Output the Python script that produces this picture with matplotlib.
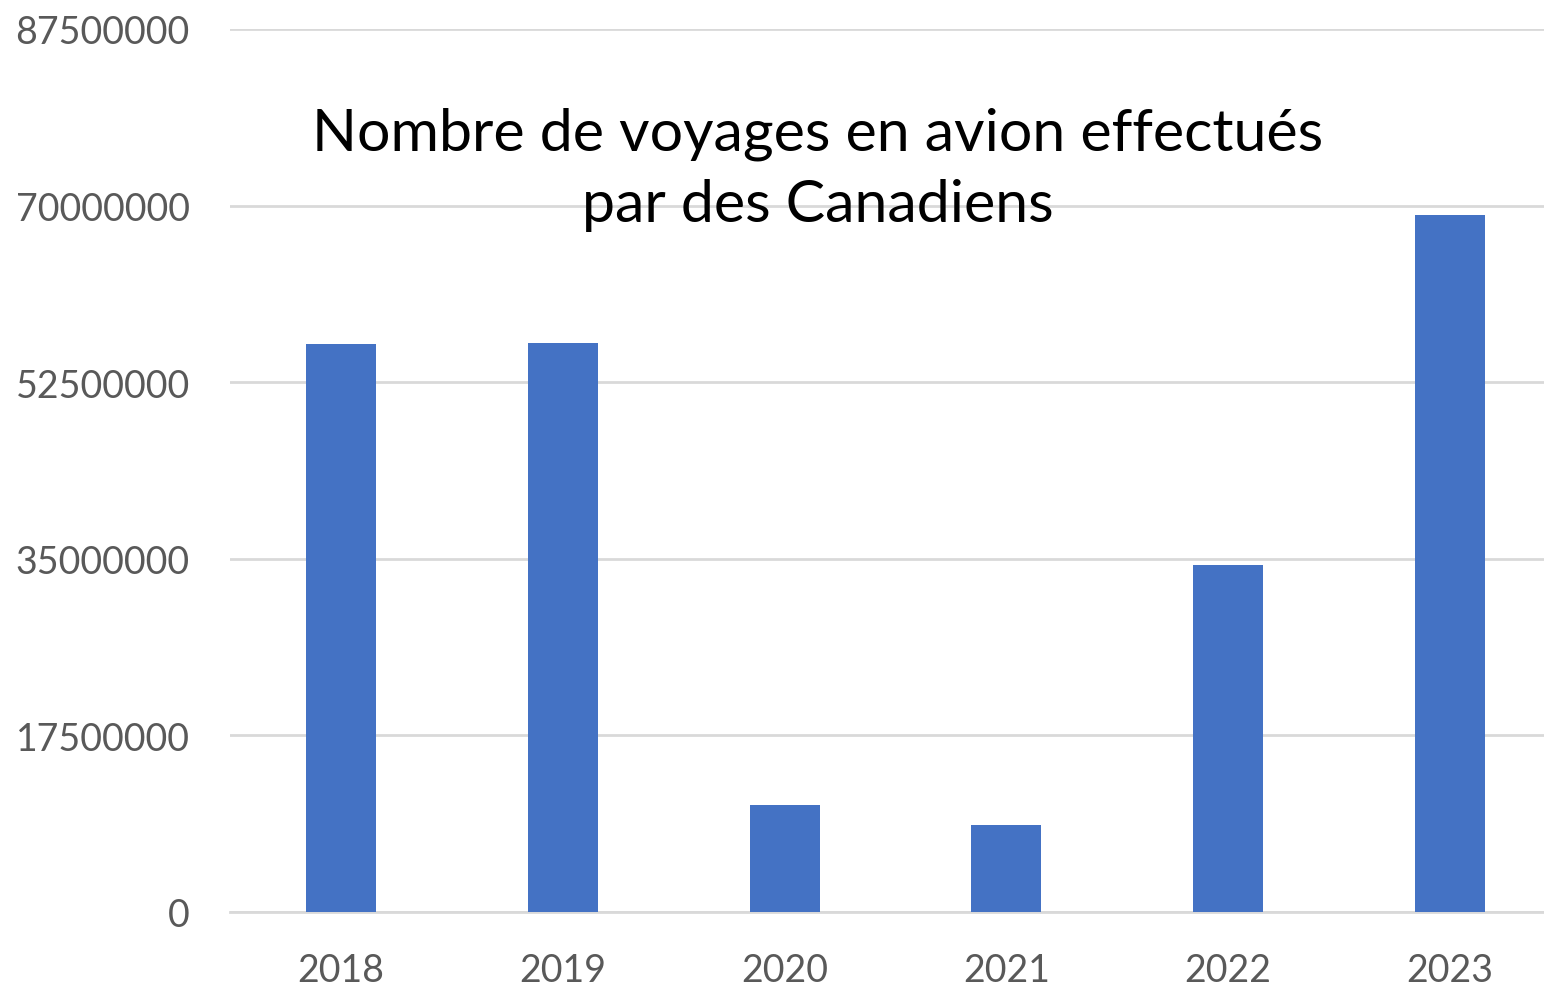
import numpy as np
import matplotlib.pyplot as plt
from matplotlib.ticker import MultipleLocator, FuncFormatter

YEARS = ["2018", "2019", "2020", "2021", "2022", "2023"]
TRIPS = [56300000, 56350000, 10600000, 8600000, 34400000, 69100000]
TITLE = "Nombre de voyages en avion effectués\npar des Canadiens"

BAR_COLOR = "#4472C4"
GRID_COLOR = "#D9D9D9"
TICK_COLOR = "#595959"

plt.rcParams["font.family"] = ["Lato", "DejaVu Sans"]

fig = plt.figure(figsize=(15.44, 9.87), dpi=100)
# plot area runs a little past the right edge of the picture
ax = fig.add_axes([230 / 1544, 1 - 913 / 987, 1331 / 1544, 883 / 987])

x = np.arange(len(YEARS))
ax.bar(x, TRIPS, width=0.315, color=BAR_COLOR, zorder=3)

ax.set_xlim(-0.5, len(YEARS) - 0.5)
ax.set_ylim(0, 87500000)
ax.yaxis.set_major_locator(MultipleLocator(17500000))
ax.yaxis.set_major_formatter(FuncFormatter(lambda v, p: f"{int(round(v))}"))
ax.set_xticks(x)
ax.set_xticklabels(YEARS)

ax.grid(axis="y", color=GRID_COLOR, linewidth=2, zorder=0)
for s in ["top", "right", "left"]:
    ax.spines[s].set_visible(False)
ax.spines["bottom"].set_color(GRID_COLOR)
ax.spines["bottom"].set_linewidth(2)
ax.tick_params(axis="both", length=0, labelsize=27, colors=TICK_COLOR)
ax.tick_params(axis="y", pad=29)
ax.tick_params(axis="x", pad=29)

# title sits inside the plot area, centred on the visible part
fig.text(818 / 1544, 1 - 170 / 987, TITLE, ha="center", va="center",
         fontsize=42.5, color="black", linespacing=1.43)

fig.savefig("out.png", dpi=100)
